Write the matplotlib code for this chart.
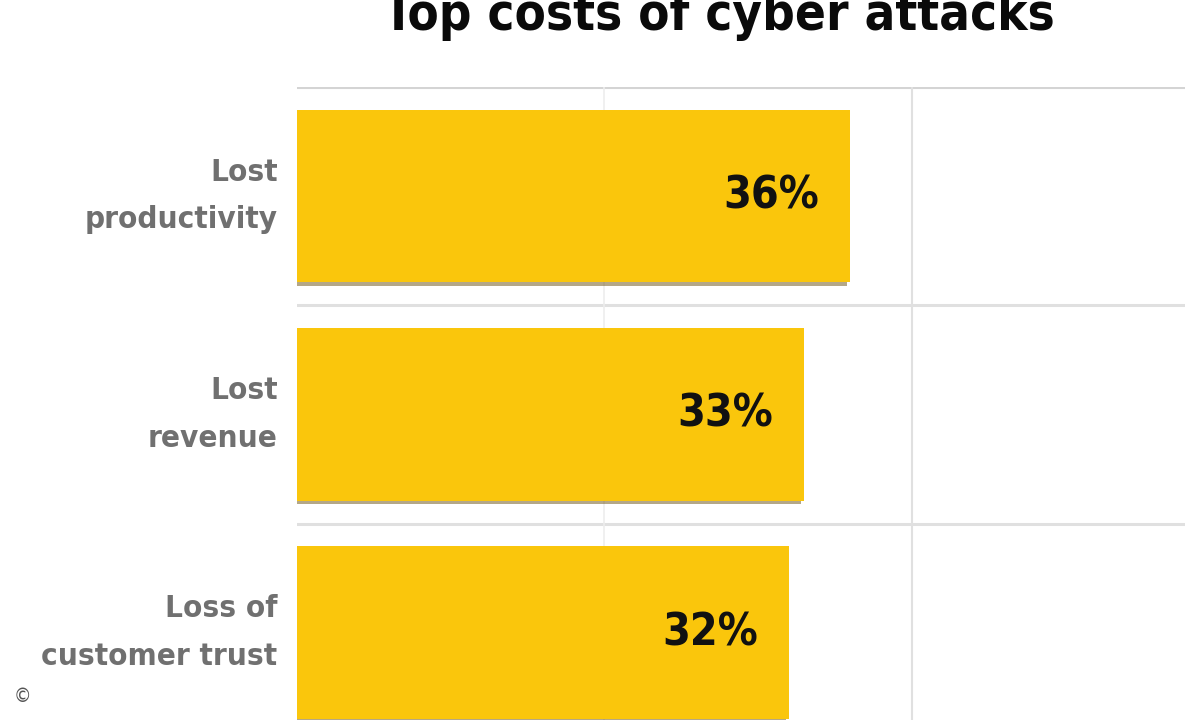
import matplotlib.pyplot as plt
import matplotlib.patheffects as pe

# narrow bold look: ask for the condensed DejaVu cut
plt.rcParams['font.family'] = ['DejaVu Sans']
plt.rcParams['font.stretch'] = 'condensed'

categories = ["Lost\nproductivity", "Lost\nrevenue", "Loss of\ncustomer trust"]
values = [36, 33, 32]
title = "Top costs of cyber attacks"

bar_color = '#FAC60C'
label_gray = '#707070'
grid_gray = '#e0e0e0'

fig = plt.figure(figsize=(11.99, 7.2), dpi=100)
ax = fig.add_axes([297 / 1199, 0, (1185 - 297) / 1199, 1 - 87 / 720])

pos = list(range(len(values)))
bars = ax.barh(pos, values, height=0.79, color=bar_color, zorder=3)
for b in bars:
    b.set_path_effects([pe.SimplePatchShadow(offset=(-2, -2.5), shadow_rgbFace='#6b5010', alpha=0.5),
                        pe.Normal()])

ax.set_xlim(0, 57.8)
ax.set_ylim(2.40, -0.5)

# row separators and gridlines
for y in [-0.5, 0.5, 1.5]:
    ax.axhline(y, color='#d4d4d4' if y < 0 else grid_gray, lw=2.2, zorder=1)
ax.axvline(40, color=grid_gray, lw=1.5, zorder=1)
ax.axvline(20, color='#ededed', lw=1.2, zorder=1)

# value labels inside bar ends
for p, v in zip(pos, values):
    ax.text(v - 2.0, p, f"{v}%", ha='right', va='center', fontsize=32,
            fontweight='bold', fontstretch='condensed', color='#111111', zorder=4)

ax.set_yticks(pos)
ax.set_yticklabels(categories, fontsize=22.5, fontweight='bold', fontstretch='condensed',
                   color=label_gray, linespacing=1.8, va='center')
ax.tick_params(axis='y', length=0, pad=14)
ax.set_xticks([])
for s in ax.spines.values():
    s.set_visible(False)

fig.text(719 / 1199, 1 - 30 / 720, title, ha='center', va='baseline',
         fontsize=36.5, fontweight='bold', fontstretch='condensed', color='#0a0a0a')
fig.text(22 / 1199, 1 - 697 / 720, '\u00a9', ha='center', va='center',
         fontsize=14, color='#555555')

fig.savefig('out.png', dpi=100)
